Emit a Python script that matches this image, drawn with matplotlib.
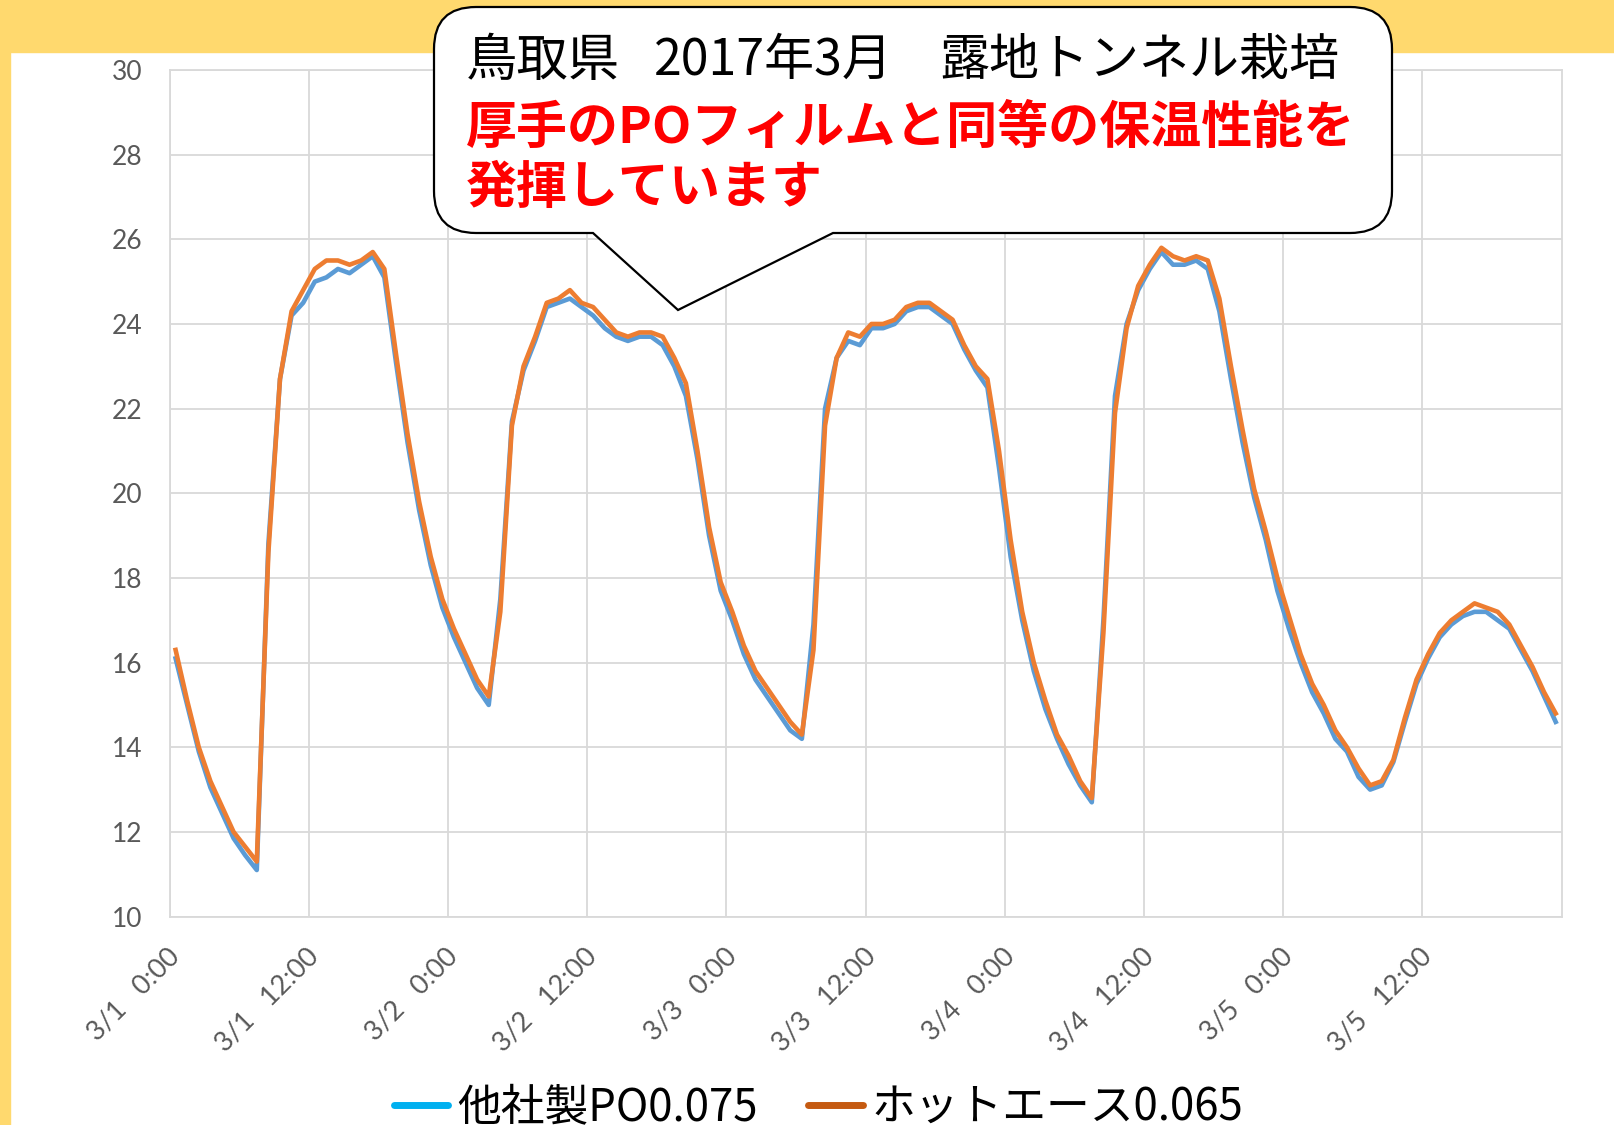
import numpy as np
import matplotlib
matplotlib.use('Agg')
import matplotlib.pyplot as plt
import matplotlib.transforms as mtransforms
from matplotlib.path import Path
from matplotlib.patches import PathPatch, Rectangle
from matplotlib.lines import Line2D

# hourly temperatures, 3/1 0:00 .. 3/5 23:00
other_po = [16.1, 15.0, 13.9, 13.05, 12.45, 11.85, 11.45, 11.1, 18.8, 22.7, 24.2, 24.5,
            25.0, 25.1, 25.3, 25.2, 25.4, 25.6, 25.1, 23.1, 21.2, 19.6, 18.3, 17.3,
            16.6, 16.0, 15.4, 15.0, 17.5, 21.7, 22.9, 23.6, 24.4, 24.5, 24.6, 24.4,
            24.2, 23.9, 23.7, 23.6, 23.7, 23.7, 23.5, 23.0, 22.3, 20.8, 19.0, 17.7,
            17.0, 16.2, 15.6, 15.2, 14.8, 14.4, 14.2, 16.9, 22.0, 23.2, 23.6, 23.5,
            23.9, 23.9, 24.0, 24.3, 24.4, 24.4, 24.2, 24.0, 23.4, 22.9, 22.5, 20.6,
            18.5, 17.0, 15.8, 14.9, 14.2, 13.6, 13.1, 12.7, 17.0, 22.3, 24.0, 24.8,
            25.3, 25.7, 25.4, 25.4, 25.5, 25.3, 24.3, 22.7, 21.2, 19.9, 18.9, 17.7,
            16.8, 16.0, 15.3, 14.8, 14.2, 13.9, 13.3, 13.0, 13.1, 13.65, 14.6, 15.5,
            16.1, 16.6, 16.9, 17.1, 17.2, 17.2, 17.0, 16.8, 16.3, 15.8, 15.2, 14.6]
hot_ace = [16.3, 15.1, 14.0, 13.2, 12.6, 12.0, 11.65, 11.3, 18.6, 22.7, 24.3, 24.8,
           25.3, 25.5, 25.5, 25.4, 25.5, 25.7, 25.3, 23.3, 21.4, 19.8, 18.5, 17.5,
           16.8, 16.2, 15.6, 15.2, 17.2, 21.6, 23.0, 23.7, 24.5, 24.6, 24.8, 24.5,
           24.4, 24.1, 23.8, 23.7, 23.8, 23.8, 23.7, 23.2, 22.6, 21.0, 19.2, 17.9,
           17.2, 16.4, 15.8, 15.4, 15.0, 14.6, 14.3, 16.3, 21.6, 23.2, 23.8, 23.7,
           24.0, 24.0, 24.1, 24.4, 24.5, 24.5, 24.3, 24.1, 23.5, 23.0, 22.7, 21.0,
           18.9, 17.2, 16.0, 15.1, 14.3, 13.8, 13.2, 12.8, 16.7, 21.9, 23.9, 24.9,
           25.4, 25.8, 25.6, 25.5, 25.6, 25.5, 24.6, 23.0, 21.5, 20.1, 19.1, 18.0,
           17.1, 16.2, 15.5, 15.0, 14.4, 14.0, 13.5, 13.1, 13.2, 13.7, 14.7, 15.6,
           16.2, 16.7, 17.0, 17.2, 17.4, 17.3, 17.2, 16.9, 16.4, 15.9, 15.3, 14.8]
tick_labels = ['3/1   0:00', '3/1   12:00', '3/2   0:00', '3/2   12:00', '3/3   0:00',
               '3/3   12:00', '3/4   0:00', '3/4   12:00', '3/5   0:00', '3/5   12:00']
series_names = ['他社製PO0.075', 'ホットエース0.065']

W, H = 1614, 1125
plt.rcParams['font.family'] = ['Noto Sans CJK JP', 'DejaVu Sans']

fig = plt.figure(figsize=(W / 100, H / 100), dpi=100)
fig.patch.set_facecolor('white')
# pixel coords, origin top-left
px = mtransforms.Affine2D().scale(1 / W, -1 / H).translate(0, 1) + fig.transFigure

yellow = '#FFD96E'
fig.patches.append(Rectangle((0, 0), W, 52, transform=px, color=yellow, zorder=0.5))
fig.patches.append(Rectangle((0, 0), 10, H, transform=px, color=yellow, zorder=0.5))

ax = fig.add_axes([169.8 / W, 1 - 916.6 / H, (1561.5 - 169.8) / W, (916.6 - 70) / H])
x = np.arange(len(hot_ace)) + 0.5  # category centres
ax.plot(x, other_po, color='#5B9BD5', lw=3.3, solid_joinstyle='round', zorder=3)
ax.plot(x, hot_ace, color='#ED7D31', lw=3.3, solid_joinstyle='round', zorder=4)

ax.set_xlim(0, len(hot_ace))
ax.set_ylim(10, 30)
ax.set_xticks(np.arange(0, len(hot_ace), 12))
ax.set_xticklabels(tick_labels)
ax.set_yticks(np.arange(10, 31, 2))
ax.grid(True, color='#D9D9D9', lw=1.3)
ax.set_axisbelow(True)
for sp in ax.spines.values():
    sp.set_color('#D9D9D9')
    sp.set_linewidth(1.3)
ax.tick_params(axis='both', length=0, labelsize=19, labelcolor='#595959',
               labelfontfamily='Lato')
ax.tick_params(axis='x', labelsize=19.5)
ax.tick_params(axis='y', pad=20)
ax.tick_params(axis='x', pad=26)
shift = mtransforms.ScaledTranslation(6 / 100, 0, fig.dpi_scale_trans)
for lab in ax.get_xticklabels():
    lab.set_rotation(45)
    lab.set_ha('right')
    lab.set_va('center')
    lab.set_rotation_mode('anchor')
    lab.set_transform(lab.get_transform() + shift)

# callout box
L, R, T, B, r = 434, 1392, 7, 233, 42
tip = (678, 310)
verts = [(L + r, T), (R - r, T), (R, T), (R, T + r), (R, B - r), (R, B), (R - r, B),
         (833, B), tip, (593, B), (L + r, B), (L, B), (L, B - r), (L, T + r), (L, T),
         (L + r, T), (L + r, T)]
codes = [Path.MOVETO, Path.LINETO, Path.CURVE3, Path.CURVE3, Path.LINETO, Path.CURVE3,
         Path.CURVE3, Path.LINETO, Path.LINETO, Path.LINETO, Path.LINETO, Path.CURVE3,
         Path.CURVE3, Path.LINETO, Path.CURVE3, Path.CURVE3, Path.CLOSEPOLY]
fig.patches.append(PathPatch(Path(verts, codes), transform=px, facecolor='white',
                             edgecolor='black', lw=1.6, zorder=5))

fig.text(466, 61, '鳥取県', transform=px, fontsize=37, va='center', ha='left', zorder=6)
fig.text(654, 61, '2017年3月', transform=px, fontsize=36, va='center', ha='left', zorder=6)
fig.text(939, 61, '露地トンネル栽培', transform=px, fontsize=36, va='center', ha='left', zorder=6)
fig.text(466, 128, '厚手のPOフィルムと同等の保温性能を', transform=px, fontsize=36.7,
         fontweight='bold', color='#FF0000', va='center', ha='left', zorder=6)
fig.text(466, 188, '発揮しています', transform=px, fontsize=36.7,
         fontweight='bold', color='#FF0000', va='center', ha='left', zorder=6)

handles = [Line2D([], [], color='#00B0F0', lw=5, solid_capstyle='round'),
           Line2D([], [], color='#C55A11', lw=5, solid_capstyle='round')]
fig.legend(handles, series_names, loc='center', bbox_to_anchor=(0.507, 0.016), ncol=2,
           frameon=False, fontsize=31.5, handlelength=1.25, handletextpad=0.2,
           columnspacing=1.15, borderpad=0, borderaxespad=0)

fig.savefig('out.png', dpi=100, facecolor='white')
